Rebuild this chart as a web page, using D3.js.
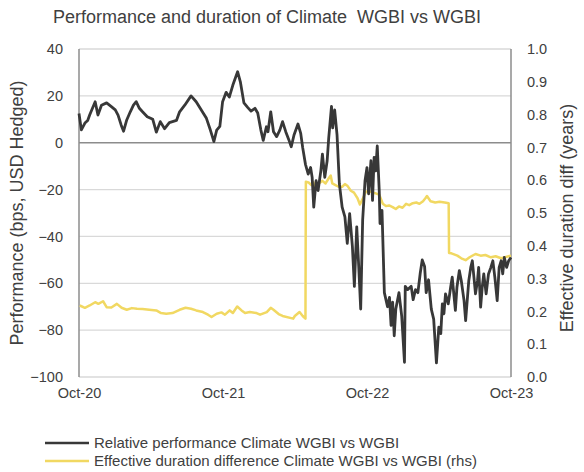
<!DOCTYPE html>
<html>
<head>
<meta charset="utf-8">
<script src="https://cdn.jsdelivr.net/npm/d3@7"></script>
<style>
	body { margin: 0; background: #fff; }
	svg { display: block; font-family: 'Liberation Sans', Arial, sans-serif; }
</style>
</head>
<body>
<div id="chart"></div>
<script>
// relative performance, bps (lhs)
const perfDates = [
	'2020-10-01', '2020-10-07', '2020-10-16', '2020-10-23', '2020-10-28', '2020-11-11', '2020-11-18', '2020-11-27',
	'2020-12-10', '2020-12-22', '2021-01-01', '2021-01-08', '2021-01-16', '2021-01-22', '2021-01-30', '2021-02-08',
	'2021-02-16', '2021-02-23', '2021-03-03', '2021-03-11', '2021-03-23', '2021-04-06', '2021-04-15', '2021-04-25',
	'2021-05-06', '2021-05-18', '2021-06-05', '2021-06-13', '2021-06-26', '2021-07-12', '2021-07-25', '2021-08-07',
	'2021-08-20', '2021-08-30', '2021-09-08', '2021-09-15', '2021-09-23', '2021-09-30', '2021-10-09', '2021-10-17',
	'2021-10-26', '2021-11-07', '2021-11-14', '2021-11-23', '2021-12-03', '2021-12-11', '2021-12-21', '2021-12-28',
	'2022-01-05', '2022-01-11', '2022-01-19', '2022-01-23', '2022-01-30', '2022-02-06', '2022-02-14', '2022-02-22',
	'2022-03-01', '2022-03-09', '2022-03-17', '2022-03-23', '2022-03-30', '2022-04-09', '2022-04-16', '2022-04-21',
	'2022-04-28', '2022-05-05', '2022-05-11', '2022-05-15', '2022-05-19', '2022-05-25', '2022-05-30', '2022-06-06',
	'2022-06-10', '2022-06-16', '2022-06-22', '2022-06-26', '2022-07-03', '2022-07-06', '2022-07-11', '2022-07-17',
	'2022-07-23', '2022-07-30', '2022-08-06', '2022-08-12', '2022-08-18', '2022-08-25', '2022-08-30', '2022-09-05',
	'2022-09-10', '2022-09-15', '2022-09-20', '2022-09-26', '2022-10-01', '2022-10-05', '2022-10-11', '2022-10-15',
	'2022-10-19', '2022-10-23', '2022-10-27', '2022-11-01', '2022-11-03', '2022-11-08', '2022-11-14', '2022-11-16',
	'2022-11-22', '2022-11-27', '2022-12-01', '2022-12-05', '2022-12-09', '2022-12-13', '2022-12-21', '2022-12-28',
	'2023-01-04', '2023-01-06', '2023-01-12', '2023-01-21', '2023-01-26', '2023-02-01', '2023-02-07', '2023-02-13',
	'2023-02-18', '2023-02-24', '2023-02-28', '2023-03-06', '2023-03-13', '2023-03-19', '2023-03-26', '2023-04-01',
	'2023-04-06', '2023-04-10', '2023-04-14', '2023-04-18', '2023-04-25', '2023-05-01', '2023-05-05', '2023-05-09',
	'2023-05-13', '2023-05-17', '2023-05-23', '2023-05-28', '2023-06-04', '2023-06-08', '2023-06-12', '2023-06-16',
	'2023-06-21', '2023-06-25', '2023-06-29', '2023-07-03', '2023-07-08', '2023-07-11', '2023-07-16', '2023-07-20',
	'2023-07-24', '2023-07-30', '2023-08-05', '2023-08-11', '2023-08-16', '2023-08-21', '2023-08-27', '2023-09-01',
	'2023-09-06', '2023-09-10', '2023-09-14', '2023-09-20', '2023-09-25', '2023-10-01'
]
const perfValues = [
	12.5, 5.5, 8.4, 9.5, 11.8, 17.5, 11.8, 16,
	17, 15.4, 14, 11.8, 7.5, 4.9, 9.7, 13.2,
	16, 17.5, 14.7, 13.2, 11.1, 10, 4.5, 9,
	6, 8.6, 9.5, 13.2, 16, 20, 17.5, 14,
	10.4, 5.4, 0.5, 5.4, 7, 17.5, 21.5, 19.5,
	24.6, 30.3, 26, 17, 15, 13.5, 14.7, 12.7,
	5.4, 1, 6.8, 4.7, 13.2, 4.7, 2.6, 5.4,
	9, 4.7, 1.2, -1.7, 3.3, 8, 4, -2.1,
	-9.2, -13.4, -10.6, -14.8, -27.5, -16.2, -20.4, -12,
	-4.9, -14.8, -7.7, 2.1, 15.5, 6.3, 14, 3.5,
	-17.6, -27.5, -31.7, -43, -30.3, -44.4, -61.3, -35.9,
	-52.8, -71, -33, -16.2, -10.6, -21.8, -7.7, -24.6,
	-6.3, -12, -1.4, -20.4, -34.5, -28.9, -64, -65.5,
	-70, -66, -78, -68, -82.4, -71, -64, -74,
	-93.7, -61.3, -62.7, -61.3, -67, -62.7, -64, -55.6,
	-50, -52.8, -64, -58.5, -71, -75.3, -94, -78.7,
	-81.5, -68.8, -73, -64.5, -68.8, -61.7, -57.4, -64.5,
	-71.6, -61.7, -54.6, -58.9, -67.4, -75.9, -67.4, -58.9,
	-53.2, -50.4, -57.4, -64.5, -59, -53.2, -70.2, -61.7,
	-56, -64.5, -56, -53.2, -50.4, -57.4, -67.4, -53.2,
	-50.4, -56, -49, -53.2, -50.4, -49
]

// effective duration difference, years (rhs)
const durDates = [
	'2020-10-03', '2020-10-16', '2020-10-28', '2020-11-11', '2020-11-19', '2020-12-01', '2020-12-10', '2020-12-22',
	'2021-01-05', '2021-01-17', '2021-01-30', '2021-02-12', '2021-02-25', '2021-03-11', '2021-03-28', '2021-04-15',
	'2021-04-27', '2021-05-10', '2021-05-26', '2021-06-13', '2021-06-28', '2021-07-12', '2021-07-25', '2021-08-11',
	'2021-08-24', '2021-09-02', '2021-09-15', '2021-09-27', '2021-10-06', '2021-10-18', '2021-10-26', '2021-11-06',
	'2021-11-17', '2021-11-26', '2021-12-08', '2021-12-25', '2022-01-03', '2022-01-20', '2022-01-30', '2022-02-06',
	'2022-02-19', '2022-03-01', '2022-03-28', '2022-04-01', '2022-04-13', '2022-04-21', '2022-04-28', '2022-04-29',
	'2022-05-06', '2022-05-13', '2022-05-18', '2022-05-23', '2022-06-01', '2022-06-10', '2022-06-18', '2022-06-26',
	'2022-07-01', '2022-07-05', '2022-07-13', '2022-07-21', '2022-07-30', '2022-08-06', '2022-08-13', '2022-08-21',
	'2022-08-29', '2022-09-07', '2022-09-13', '2022-09-20', '2022-09-28', '2022-10-06', '2022-10-16', '2022-10-23',
	'2022-11-01', '2022-11-10', '2022-11-18', '2022-11-26', '2022-12-05', '2022-12-13', '2022-12-21', '2022-12-30',
	'2023-01-08', '2023-01-16', '2023-01-25', '2023-02-03', '2023-02-11', '2023-02-20', '2023-02-26', '2023-03-02',
	'2023-03-11', '2023-03-23', '2023-04-03', '2023-04-16', '2023-04-26', '2023-04-27', '2023-05-03', '2023-05-18',
	'2023-05-28', '2023-06-08', '2023-06-18', '2023-07-03', '2023-07-16', '2023-07-28', '2023-08-11', '2023-08-23',
	'2023-09-06', '2023-09-18', '2023-10-01'
]
const durValues = [
	0.218, 0.211, 0.218, 0.228, 0.223, 0.231, 0.213, 0.212,
	0.223, 0.211, 0.205, 0.21, 0.208, 0.207, 0.205, 0.203,
	0.195, 0.193, 0.195, 0.205, 0.211, 0.208, 0.203, 0.198,
	0.19, 0.183, 0.193, 0.197, 0.19, 0.203, 0.195, 0.215,
	0.203, 0.195, 0.198, 0.195, 0.19, 0.198, 0.211, 0.205,
	0.192, 0.186, 0.178, 0.186, 0.198, 0.186, 0.178, 0.595,
	0.593, 0.585, 0.594, 0.575, 0.59, 0.598, 0.59, 0.606,
	0.614, 0.59, 0.585, 0.58, 0.58, 0.588, 0.582, 0.568,
	0.562, 0.545, 0.526, 0.543, 0.565, 0.567, 0.562, 0.56,
	0.556, 0.528, 0.521, 0.523, 0.518, 0.512, 0.52, 0.516,
	0.528, 0.524, 0.53, 0.532, 0.528, 0.536, 0.545, 0.552,
	0.536, 0.532, 0.534, 0.532, 0.53, 0.378, 0.377, 0.37,
	0.362, 0.356, 0.365, 0.375, 0.37, 0.372, 0.365, 0.368,
	0.362, 0.366, 0.37
]

const leftTicks = [-100, -80, -60, -40, -20, 0, 20, 40]
const rightTicks = [0, 0.1, 0.2, 0.3, 0.4, 0.5, 0.6, 0.7, 0.8, 0.9, 1.0]
const xTickDates = ['2020-10-01', '2021-10-01', '2022-10-01', '2023-10-01']
const xTickLabels = ['Oct-20', 'Oct-21', 'Oct-22', 'Oct-23']
const seriesNames = [
	'Relative performance Climate WGBI vs WGBI',
	'Effective duration difference Climate WGBI vs WGBI (rhs)'
]

const fullWidth = 584
const fullHeight = 472
const margin = { top: 49, right: 73, bottom: 95, left: 79 }
const width = fullWidth - margin.left - margin.right
const height = fullHeight - margin.top - margin.bottom

const textColor = '#404040'
const perfColor = '#383838'
const durColor = '#f1d862'

const parseDate = d3.timeParse('%Y-%m-%d')
const perfData = perfDates.map((d, i) => ({ date: parseDate(d), value: perfValues[i] }))
const durData = durDates.map((d, i) => ({ date: parseDate(d), value: durValues[i] }))

const svg = d3
	.select('#chart')
	.append('svg')
	.attr('width', fullWidth)
	.attr('height', fullHeight)

const x = d3
	.scaleTime()
	.domain([parseDate(xTickDates[0]), parseDate(xTickDates[xTickDates.length - 1])])
	.range([margin.left, margin.left + width])
const yLeft = d3.scaleLinear().domain([-100, 40]).range([margin.top + height, margin.top])
const yRight = d3.scaleLinear().domain([0, 1]).range([margin.top + height, margin.top])

// gridlines
svg
	.append('g')
	.selectAll('line')
	.data(leftTicks.filter((d) => d !== 0))
	.enter()
	.append('line')
	.attr('x1', margin.left)
	.attr('x2', margin.left + width)
	.attr('y1', (d) => yLeft(d))
	.attr('y2', (d) => yLeft(d))
	.attr('stroke', '#d9d9d9')
	.attr('stroke-width', 1.3)

// zero line + vertical axes
svg
	.append('line')
	.attr('x1', margin.left)
	.attr('x2', margin.left + width)
	.attr('y1', yLeft(0))
	.attr('y2', yLeft(0))
	.attr('stroke', '#8c8c8c')
	.attr('stroke-width', 1.5)

svg
	.selectAll('.vaxis')
	.data([margin.left, margin.left + width])
	.enter()
	.append('line')
	.attr('class', 'vaxis')
	.attr('x1', (d) => d)
	.attr('x2', (d) => d)
	.attr('y1', margin.top)
	.attr('y2', margin.top + height)
	.attr('stroke', '#8c8c8c')
	.attr('stroke-width', 1.5)

// axes (labels only)
const leftAxis = svg
	.append('g')
	.attr('transform', 'translate(' + (margin.left - 16) + ',0)')
	.call(d3.axisLeft(yLeft).tickValues(leftTicks).tickSize(0).tickPadding(0))
const rightAxis = svg
	.append('g')
	.attr('transform', 'translate(' + (margin.left + width + 16) + ',0)')
	.call(d3.axisRight(yRight).tickValues(rightTicks).tickSize(0).tickPadding(0).tickFormat(d3.format('.1f')))
const bottomAxis = svg
	.append('g')
	.attr('transform', 'translate(0,' + (margin.top + height + 8) + ')')
	.call(
		d3
			.axisBottom(x)
			.tickValues(xTickDates.map(parseDate))
			.tickSize(0)
			.tickPadding(0)
			.tickFormat((d, i) => xTickLabels[i])
	)

;[leftAxis, rightAxis, bottomAxis].forEach((ax) => {
	ax.select('.domain').remove()
	ax.selectAll('text').attr('fill', textColor).style('font-size', '14.5px').style('font-family', 'Liberation Sans, Arial, sans-serif')
})
bottomAxis.selectAll('text').attr('dy', '0.9em')

// lines
const perfLine = d3
	.line()
	.x((d) => x(d.date))
	.y((d) => yLeft(d.value))
const durLine = d3
	.line()
	.x((d) => x(d.date))
	.y((d) => yRight(d.value))

svg
	.append('path')
	.datum(durData)
	.attr('d', durLine)
	.attr('fill', 'none')
	.attr('stroke', durColor)
	.attr('stroke-width', 2.5)
	.attr('stroke-linejoin', 'round')

svg
	.append('path')
	.datum(perfData)
	.attr('d', perfLine)
	.attr('fill', 'none')
	.attr('stroke', perfColor)
	.attr('stroke-width', 2.8)
	.attr('stroke-linejoin', 'round')

// title
svg
	.append('text')
	.attr('x', 267)
	.attr('y', 23)
	.attr('text-anchor', 'middle')
	.attr('fill', textColor)
	.style('font-size', '18px')
	.style('white-space', 'pre')
	.text('Performance and duration of Climate  WGBI vs WGBI')

// axis titles
svg
	.append('text')
	.attr('transform', 'translate(23,' + (margin.top + height / 2) + ') rotate(-90)')
	.attr('text-anchor', 'middle')
	.attr('fill', textColor)
	.style('font-size', '18px')
	.text('Performance (bps, USD Hedged)')

svg
	.append('text')
	.attr('transform', 'translate(573,' + (margin.top + height / 2 + 5) + ') rotate(-90)')
	.attr('text-anchor', 'middle')
	.attr('fill', textColor)
	.style('font-size', '18px')
	.text('Effective duration diff (years)')

// legend
const legend = svg
	.selectAll('.legend')
	.data(seriesNames)
	.enter()
	.append('g')
	.attr('class', 'legend')
	.attr('transform', (d, i) => 'translate(45,' + (443 + i * 18) + ')')

legend
	.append('line')
	.attr('x1', 0)
	.attr('x2', 44)
	.attr('stroke', (d, i) => (i === 0 ? perfColor : durColor))
	.attr('stroke-width', 2.6)

legend
	.append('text')
	.attr('x', 49)
	.attr('dy', '0.35em')
	.attr('fill', textColor)
	.style('font-size', '15px')
	.text((d) => d)
</script>
</body>
</html>
